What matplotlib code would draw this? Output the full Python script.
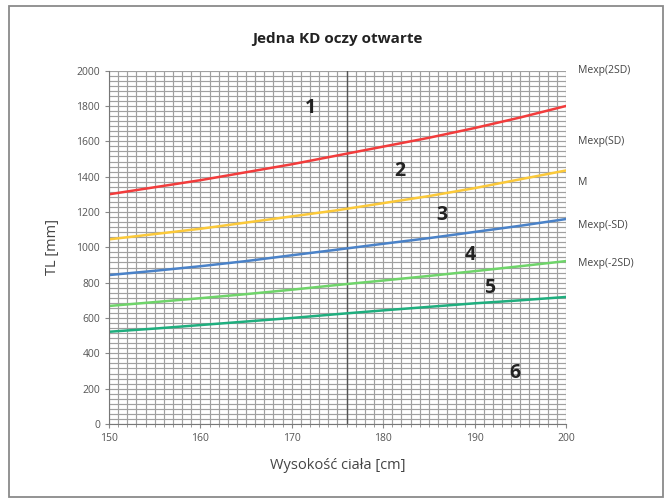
import numpy as np
import matplotlib
matplotlib.use("Agg")
import matplotlib.pyplot as plt
from matplotlib.patches import Rectangle

# Dane
height_cm = [150, 155, 160, 165, 170, 175, 180, 185, 190, 195, 200]
mexp_2sd = [1300, 1340, 1380, 1425, 1470, 1520, 1570, 1620, 1675, 1735, 1800]
mexp_sd = [1045, 1075, 1105, 1140, 1175, 1210, 1250, 1290, 1335, 1385, 1435]
m_mean = [843, 867, 893, 922, 955, 987, 1020, 1052, 1087, 1122, 1160]
mexp_m_sd = [668, 690, 712, 735, 760, 787, 812, 838, 865, 893, 922]
mexp_m_2sd = [522, 540, 560, 580, 600, 622, 643, 663, 683, 700, 719]

curve_labels = ["Mexp(2SD)", "Mexp(SD)", "M", "Mexp(-SD)", "Mexp(-2SD)"]
curve_label_y = [2000, 1600, 1365, 1125, 910]
zone_labels = ["1", "2", "3", "4", "5", "6"]
zone_x = [172, 181.8, 186.4, 189.5, 191.7, 194.4]
zone_y = [1790, 1430, 1185, 955, 770, 290]

x_ticks = [150, 160, 170, 180, 190, 200]
y_ticks = [0, 200, 400, 600, 800, 1000, 1200, 1400, 1600, 1800, 2000]


def main():
    plt.rcParams['font.family'] = ['Open Sans', 'DejaVu Sans']

    fig = plt.figure(figsize=(6.71, 5.01), dpi=100)
    ax = fig.add_axes([0.1624, 0.1537, 0.6811, 0.7053])

    # Ramka wokol calego wykresu
    fig.patches.append(Rectangle((0.014, 0.008), 0.974, 0.98,
                                 transform=fig.transFigure, fill=False,
                                 edgecolor='#8a8a8a', linewidth=1.3))

    # Siatka milimetrowa
    for gx in range(150, 201):
        ax.axvline(gx, color='#a0a0a0', linewidth=0.85, zorder=0)
    for gy in np.linspace(0, 2000, 71):
        ax.axhline(gy, color='#a0a0a0', linewidth=0.85, zorder=0)
    ax.axvline(176, color='#555555', linewidth=1.0, zorder=1)

    # Krzywe
    ax.plot(height_cm, mexp_2sd, color='#f23c3c', linewidth=1.8)
    ax.plot(height_cm, mexp_sd, color='#fbc93a', linewidth=1.8)
    ax.plot(height_cm, m_mean, color='#4a82c8', linewidth=1.8)
    ax.plot(height_cm, mexp_m_sd, color='#6fd46a', linewidth=1.8)
    ax.plot(height_cm, mexp_m_2sd, color='#1fae7e', linewidth=1.8)

    # Etykiety krzywych po prawej
    for label, ly in zip(curve_labels, curve_label_y):
        ax.text(201.3, ly, label, fontsize=7.5, color='#444444',
                va='center', ha='left', clip_on=False)

    # Numery stref
    for label, zx, zy in zip(zone_labels, zone_x, zone_y):
        ax.text(zx, zy, label, fontsize=14, fontweight='bold',
                color='#222222', ha='center', va='center')

    ax.set_xlim(150, 200)
    ax.set_ylim(0, 2000)
    ax.set_xticks(x_ticks)
    ax.set_yticks(y_ticks)
    ax.set_xticks(range(150, 201), minor=True)
    ax.tick_params(axis='both', labelsize=7.5, labelcolor='#555555',
                   color='#888888', length=3, width=0.8)
    ax.tick_params(axis='x', which='minor', length=2, color='#888888')

    for side in ['top', 'right']:
        ax.spines[side].set_visible(False)
    ax.spines['left'].set_color('#777777')
    ax.spines['bottom'].set_color('#777777')

    ax.set_title("Jedna KD oczy otwarte", fontsize=11, fontweight='bold',
                 color='#222222', pad=20)
    ax.set_xlabel("Wysokość ciała [cm]", fontsize=10.5, color='#444444',
                  labelpad=10)
    ax.set_ylabel("TL [mm]", fontsize=10.5, color='#444444', labelpad=12)

    fig.savefig("out.png", dpi=100)


if __name__ == "__main__":
    main()
